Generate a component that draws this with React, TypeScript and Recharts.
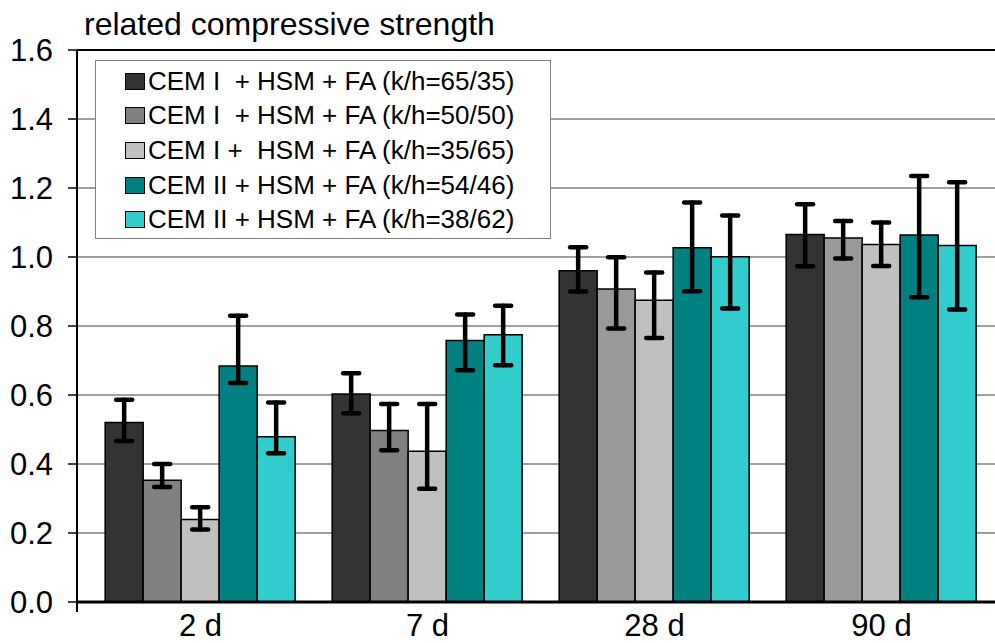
import React from 'react'
import { Bar, BarChart, CartesianGrid, Cell, ErrorBar, ReferenceLine, XAxis, YAxis } from 'recharts'

const categories = ['2 d', '7 d', '28 d', '90 d']

const seriesNames = [
  'CEM I  + HSM + FA (k/h=65/35)',
  'CEM I  + HSM + FA (k/h=50/50)',
  'CEM I +  HSM + FA (k/h=35/65)',
  'CEM II + HSM + FA (k/h=54/46)',
  'CEM II + HSM + FA (k/h=38/62)',
]
const seriesColors = ['#333333', '#808080', '#c0c0c0', '#008080', '#33cccc']
// second series is a lighter grey at 28 d and 90 d in the source
const series2CellColors = ['#808080', '#808080', '#999999', '#999999']

const s1 = [0.52, 0.603, 0.96, 1.065]
const s1Low = [0.467, 0.547, 0.9, 0.973]
const s1High = [0.586, 0.663, 1.028, 1.153]

const s2 = [0.353, 0.497, 0.907, 1.055]
const s2Low = [0.333, 0.44, 0.793, 0.996]
const s2High = [0.4, 0.574, 0.999, 1.104]

const s3 = [0.239, 0.437, 0.875, 1.036]
const s3Low = [0.21, 0.328, 0.765, 0.974]
const s3High = [0.275, 0.574, 0.955, 1.1]

const s4 = [0.684, 0.758, 1.027, 1.064]
const s4Low = [0.635, 0.672, 0.901, 0.883]
const s4High = [0.83, 0.833, 1.158, 1.235]

const s5 = [0.479, 0.775, 1.001, 1.033]
const s5Low = [0.431, 0.686, 0.851, 0.848]
const s5High = [0.578, 0.859, 1.12, 1.217]

const yTicks = [0, 0.2, 0.4, 0.6, 0.8, 1.0, 1.2, 1.4, 1.6]

const values = [s1, s2, s3, s4, s5]
const lows = [s1Low, s2Low, s3Low, s4Low, s5Low]
const highs = [s1High, s2High, s3High, s4High, s5High]

const data = categories.map((cat, i) => {
  const row: Record<string, any> = { cat }
  values.forEach((vals, k) => {
    row[`s${k}`] = vals[i]
    row[`e${k}`] = [vals[i] - lows[k][i], highs[k][i] - vals[i]]
  })
  return row
})

const font = '"Liberation Sans", Arial, sans-serif'

function ChartLegend() {
  return (
    <div
      style={{
        position: 'absolute',
        left: 95,
        top: 60,
        width: 456,
        height: 179,
        boxSizing: 'border-box',
        border: '1px solid #808080',
        background: '#fff',
        paddingTop: 3,
        fontFamily: font,
      }}
    >
      {seriesNames.map((name, k) => (
        <div key={name} style={{ display: 'flex', alignItems: 'center', height: 34.6, paddingLeft: 29 }}>
          <span
            style={{
              flex: 'none',
              width: 20,
              height: 17,
              boxSizing: 'border-box',
              background: seriesColors[k],
              border: '1.5px solid #000',
              marginRight: 3,
            }}
          />
          <span style={{ fontSize: 26, whiteSpace: 'pre', color: '#000' }}>{name}</span>
        </div>
      ))}
    </div>
  )
}

export default function App() {
  return (
    <div style={{ position: 'absolute', left: 0, top: 0, width: 995, height: 643, background: '#fff', fontFamily: font }}>
      <div style={{ position: 'absolute', left: 84, top: 6, fontSize: 32, color: '#000', whiteSpace: 'pre' }}>
        related compressive strength
      </div>
      <BarChart
        width={995}
        height={643}
        data={data}
        margin={{ top: 50, right: 0, bottom: 0, left: 0 }}
        barCategoryGap="8%"
        barGap={0}
      >
        <CartesianGrid vertical={false} stroke="#404040" strokeWidth={1} />
        <XAxis
          dataKey="cat"
          height={41}
          padding={{ left: 10, right: 0 }}
          tickLine={false}
          axisLine={{ stroke: '#000', strokeWidth: 3 }}
          tick={{ fill: '#000', fontSize: 31, fontFamily: font }}
          tickSize={6}
          tickMargin={6}
        />
        <YAxis
          width={77}
          domain={[0, 1.6]}
          ticks={yTicks}
          interval={0}
          tickFormatter={(v: number) => v.toFixed(1)}
          axisLine={{ stroke: '#000', strokeWidth: 2 }}
          tickLine={{ stroke: '#000', strokeWidth: 1.5 }}
          tickSize={9}
          tickMargin={15}
          tick={{ fill: '#000', fontSize: 31, fontFamily: font }}
        />
        <ReferenceLine y={1.6} stroke="#000" strokeWidth={2} />
        {seriesNames.map((name, k) => (
          <Bar
            key={name}
            dataKey={`s${k}`}
            name={name}
            fill={seriesColors[k]}
            stroke="#000"
            strokeWidth={1.5}
            isAnimationActive={false}
          >
            {k === 1 && data.map((d, i) => <Cell key={d.cat} fill={series2CellColors[i]} />)}
            <ErrorBar
              dataKey={`e${k}`}
              direction="y"
              width={8}
              stroke="#000"
              strokeWidth={4.5}
              strokeLinecap="round"
              isAnimationActive={false}
            />
          </Bar>
        ))}
      </BarChart>
      <div style={{ position: 'absolute', left: 76, top: 602, width: 2, height: 10, background: '#000' }} />
      <ChartLegend />
    </div>
  )
}
